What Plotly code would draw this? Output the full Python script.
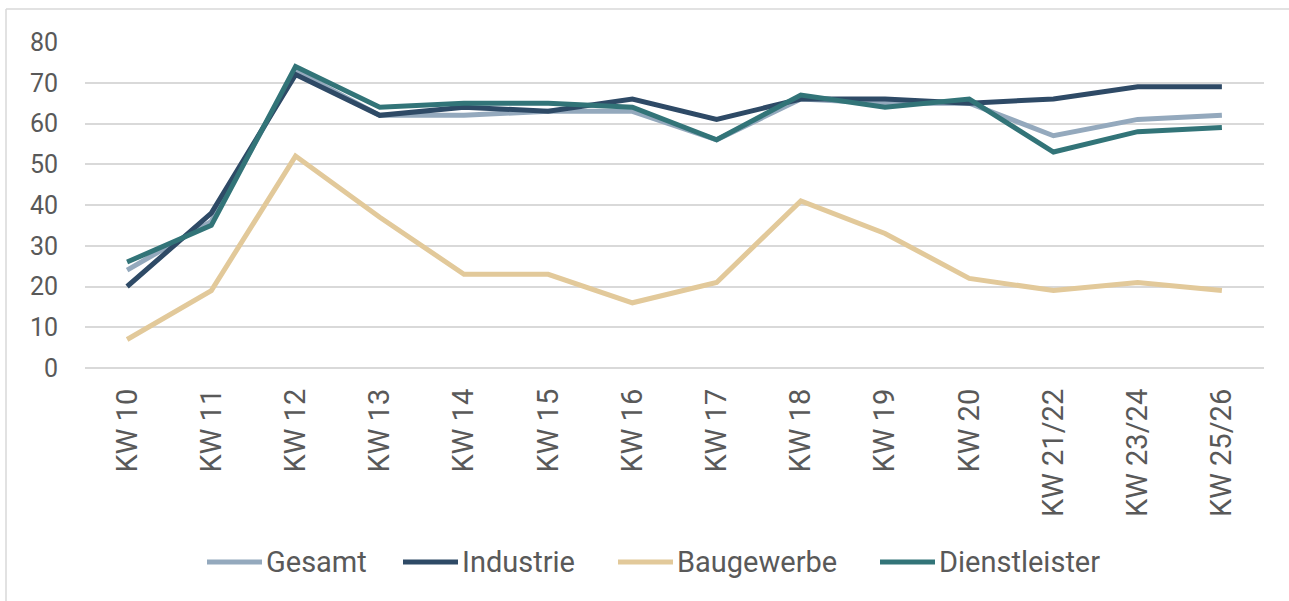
import plotly.graph_objects as go

categories = ["KW 10", "KW 11", "KW 12", "KW 13", "KW 14", "KW 15", "KW 16",
              "KW 17", "KW 18", "KW 19", "KW 20", "KW 21/22", "KW 23/24", "KW 25/26"]
gesamt = [24, 36, 73, 62, 62, 63, 63, 56, 66, 65, 65, 57, 61, 62]
industrie = [20, 38, 72, 62, 64, 63, 66, 61, 66, 66, 65, 66, 69, 69]
baugewerbe = [7, 19, 52, 37, 23, 23, 16, 21, 41, 33, 22, 19, 21, 19]
dienstleister = [26, 35, 74, 64, 65, 65, 64, 56, 67, 64, 66, 53, 58, 59]
y_ticks = [0, 10, 20, 30, 40, 50, 60, 70, 80]

series_names = ["Gesamt", "Industrie", "Baugewerbe", "Dienstleister"]
series_values = [gesamt, industrie, baugewerbe, dienstleister]
series_colors = ["#94A9BD", "#2E4A66", "#E2C99A", "#327478"]

W, H = 1289, 601
L, R, T, B = 85, 25, 42, 233
pw, ph = W - L - R, H - T - B


def px_x(x):
    return (x - L) / pw


def px_y(y):
    return (H - B - y) / ph


fig = go.Figure()
for name, vals, col in zip(series_names, series_values, series_colors):
    fig.add_trace(go.Scatter(x=categories, y=vals, name=name, mode="lines",
                             line=dict(color=col, width=5), showlegend=False))

font_fam = "Roboto, Arial, sans-serif"
txt_col = "#595959"

# custom legend (long line samples like the original)
legend_starts = [207, 403, 618, 880]
legend_y = 562
shapes = []
annotations = []
for name, col, x0 in zip(series_names, series_colors, legend_starts):
    shapes.append(dict(type="line", xref="paper", yref="paper",
                       x0=px_x(x0), x1=px_x(x0 + 55), y0=px_y(legend_y), y1=px_y(legend_y),
                       line=dict(color=col, width=5)))
    annotations.append(dict(xref="paper", yref="paper", x=px_x(x0 + 57), y=px_y(legend_y),
                            xanchor="left", yanchor="middle", text=name, showarrow=False,
                            font=dict(size=29, color=txt_col, family=font_fam)))

# chart area border (top and left visible)
shapes.append(dict(type="line", xref="paper", yref="paper", x0=px_x(6), x1=px_x(1295),
                   y0=px_y(9), y1=px_y(9), line=dict(color="#D9D9D9", width=1.5)))
shapes.append(dict(type="line", xref="paper", yref="paper", x0=px_x(6), x1=px_x(6),
                   y0=px_y(9), y1=px_y(605), line=dict(color="#D9D9D9", width=1.5)))

fig.update_layout(
    width=W, height=H,
    paper_bgcolor="white", plot_bgcolor="white",
    margin=dict(l=L, r=R, t=T, b=B, autoexpand=False),
    font=dict(family=font_fam, color=txt_col, size=25),
    showlegend=False,
    shapes=shapes,
    annotations=annotations,
    xaxis=dict(type="category", tickangle=-90, showgrid=False, showline=False,
               ticks="", tickfont=dict(size=29, color=txt_col), automargin=False,
               ticklabelstandoff=14,
               range=[-0.5, len(categories) - 0.5]),
    yaxis=dict(range=[0, 80], tickvals=y_ticks, showgrid=True,
               gridcolor="#D9D9D9", gridwidth=1.5, zeroline=True,
               zerolinecolor="#D9D9D9", zerolinewidth=1.5, automargin=False,
               ticklabelstandoff=26,
               tickfont=dict(size=25, color=txt_col), ticks=""),
)
fig.write_html("out.html", config={"displayModeBar": False},
               post_script="document.body.style.margin='0px';document.body.style.overflow='hidden';")
